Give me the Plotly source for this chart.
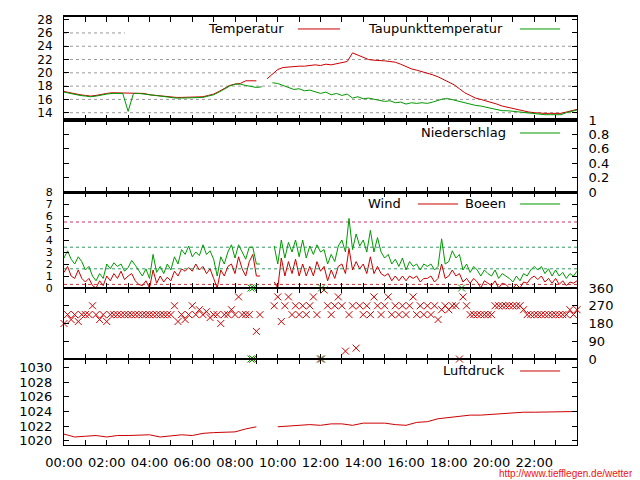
import plotly.graph_objects as go

# time grids (hours after midnight)
t_temp = [i / 4 for i in range(97)]     # 15 min
t_wind = [i / 6 for i in range(145)]    # 10 min
t_press = [i / 2 for i in range(49)]    # 30 min

temperatur = [
    17.2, 17.0, 16.8, 16.7, 16.6, 16.5, 16.6, 16.8,
    16.9, 17.0, 17.0, 17.0, 17.0, 17.0, 17.0, 16.9,
    16.7, 16.6, 16.5, 16.4, 16.3, 16.3, 16.3, 16.3,
    16.3, 16.3, 16.4, 16.6, 16.8, 17.2, 17.7, 18.1,
    18.3, 18.4, 18.8, 18.8, 18.8, None, 19.1, 19.8,
    20.5, 20.8, 20.9, 20.9, 21.0, 21.0, 21.1, 21.2,
    21.1, 21.3, 21.2, 21.4, 21.6, 21.7, 23.0, 22.7,
    22.4, 22.0, 21.9, 21.9, 21.8, 21.7, 21.6, 21.3,
    20.9, 20.6, 20.4, 20.2, 19.9, 19.7, 19.4, 19.0,
    18.6, 18.2, 17.6, 17.0, 16.6, 16.2, 16.0, 15.8,
    15.5, 15.3, 15.0, 14.8, 14.6, 14.4, 14.3, 14.1,
    14.0, 13.9, 13.9, 13.9, 13.9, 13.9, 14.1, 14.3,
    14.5,
]
taupunkt = [
    17.1, 16.9, 16.7, 16.6, 16.5, 16.4, 16.5, 16.7,
    16.8, 16.9, 16.9, 16.9, 14.2, 16.9, 16.9, 16.8,
    16.6, 16.5, 16.4, 16.3, 16.2, 16.2, 16.2, 16.2,
    16.2, 16.2, 16.3, 16.5, 16.7, 17.1, 17.6, 18.0,
    18.3, 18.3, 18.1, 17.9, 17.8, 17.9, None, 18.5,
    18.4, 18.1, 17.8, 17.5, 17.6, 17.3, 17.4, 17.2,
    16.9, 17.1, 16.7, 16.9, 16.6, 16.8, 16.2, 16.4,
    16.1, 16.2, 16.0, 15.9, 15.7, 15.8, 15.5, 15.6,
    15.3, 15.5, 15.4, 15.5, 15.4, 15.6, 15.8, 16.1,
    16.1, 15.9, 15.6, 15.4, 15.3, 15.1, 15.0, 14.8,
    14.6, 14.5, 14.3, 14.3, 14.2, 14.2, 14.1, 13.9,
    13.8, 13.7, 13.7, 13.7, 13.7, 13.7, 14.0, 14.2,
    14.4,
]
niederschlag = [0.0] * 49

boeen = [
    2.5, 3.1, 2.4, 2.0, 2.6, 2.2,  1.5, 1.8, 1.0, 0.6, 1.2, 0.8,
    2.0, 1.6, 2.1, 1.8, 2.0, 1.4,  1.7, 2.3, 1.9, 1.5, 1.0, 1.6,
    0.8, 2.8, 1.3, 1.8, 1.2, 2.0,  1.5, 2.6, 2.0, 3.2, 2.8, 3.5,
    2.6, 3.0, 2.7, 3.6, 2.8, 3.1,  2.4, 1.0, 2.6, 2.0, 3.0, 3.6,
    2.5, 3.6, 3.0, 2.4, 3.4, 3.4,  2.0, 2.0, None, None, None, 3.5,
    2.0, 4.0, 2.5, 3.8, 3.0, 4.0,  2.6, 4.0, 2.5, 3.5, 2.8, 3.6,
    3.0, 3.2, 2.0, 2.8, 2.2, 3.5,  4.0, 3.0, 5.8, 3.2, 4.5, 3.5,
    4.0, 3.0, 4.8, 3.0, 4.2, 3.0,  2.5, 2.8, 2.0, 2.4, 1.8, 2.5,
    1.5, 2.2, 1.8, 2.0, 1.5, 2.0,  1.8, 2.0, 1.5, 1.8, 4.1, 2.0,
    2.2, 3.1, 2.5, 2.8, 1.5, 2.0,  1.3, 1.8, 1.5, 1.0, 1.5, 1.2,
    1.0, 1.5, 0.8, 1.2, 1.0, 0.8,  0.5, 1.0, 0.6, 1.2, 1.0, 1.5,
    1.8, 1.5, 1.8, 1.2, 1.6, 1.0,  1.5, 1.0, 1.3, 0.8, 1.2, 1.0,
    1.4,
]
wind = [
    1.3, 1.8, 1.0, 0.8, 1.5, 0.8,  0.5, 0.8, 0.2, 0.0, 0.6, 0.2,
    1.0, 0.6, 1.2, 0.8, 1.4, 0.7,  1.0, 1.2, 0.6, 0.3, 0.2, 0.6,
    0.0, 1.5, 0.4, 1.0, 0.5, 0.9,  0.6, 1.4, 1.0, 1.6, 1.4, 1.7,
    1.4, 2.0, 1.5, 1.8, 1.2, 1.6,  0.8, 0.0, 1.5, 1.0, 1.8, 2.0,
    1.2, 2.6, 1.6, 1.0, 2.2, 2.8,  1.0, 1.0, None, None, None, 0.5,
    0.0, 2.5, 1.0, 2.2, 1.2, 2.4,  1.0, 2.0, 1.0, 1.8, 1.0, 2.2,
    1.4, 1.8, 0.6, 1.5, 0.8, 1.8,  2.0, 1.2, 3.3, 1.5, 2.2, 1.6,
    2.0, 1.2, 2.6, 1.2, 1.8, 1.2,  1.0, 1.2, 0.6, 1.0, 0.6, 1.0,
    0.6, 1.0, 0.8, 1.0, 0.5, 0.8,  0.8, 1.0, 0.5, 0.8, 2.0, 0.8,
    1.0, 1.5, 1.0, 1.2, 0.5, 0.8,  0.4, 0.8, 0.5, 0.0, 0.6, 0.4,
    0.2, 0.6, 0.0, 0.4, 0.3, 0.0,  0.0, 0.3, 0.0, 0.5, 0.4, 0.8,
    1.0, 0.7, 1.0, 0.5, 0.8, 0.4,  0.8, 0.3, 0.6, 0.2, 0.5, 0.4,
    0.6,
]
richtung = [
    180, 225, 200, 225, 190, 225,  225, 225, 270, 225, 200, 225,
    190, 225, 225, 225, 225, 225,  225, 225, 225, 225, 225, 225,
    225, 225, 225, 225, 225, 225,  225, 270, 190, 225, 200, 225,
    270, 225, 250, 225, 240, 210,  225, 225, 180, 225, 225, 250,
    225, 315, 225, 225, 225, 0,    140, 225, None, None, None, 270,
    315, 190, 270, 315, 225, 270,  225, 270, 225, 270, 315, 225,
    0, 350, 270, 225, 270, 315,    270, 40, 225, 270, 55, 270,
    225, 270, 225, 315, 270, 225,  270, 315, 225, 270, 225, 270,
    225, 270, 315, 225, 270, 225,  270, 225, 270, 200, 250, 270,
    250, 270, 270, 0, 315, 270,    225, 225, 225, 225, 225, 225,
    225, 270, 270, 270, 270, 270,  270, 270, 270, 250, 225, 225,
    225, 225, 225, 225, 225, 225,  225, 225, 225, 225, 250, 225,
    250,
]
boeen_richtung_t = [8.75, 8.85, 8.75, 8.85, 12.05, 12.05, 18.6]
boeen_richtung = [360, 360, 0, 0, 360, 0, 360]

luftdruck = [
    1020.9, 1020.5, 1020.6, 1020.7, 1020.5, 1020.7, 1020.7, 1020.8,
    1020.8, 1020.5, 1020.7, 1020.8, 1020.7, 1021.0, 1021.1, 1021.1,
    1021.2, 1021.6, 1021.9, None, 1021.9, 1022.0, 1022.1, 1022.2,
    1022.1, 1022.3, 1022.3, 1022.1, 1022.4, 1022.4, 1022.4, 1022.2,
    1022.1, 1022.5, 1022.6, 1023.0, 1023.2, 1023.4, 1023.5, 1023.5,
    1023.6, 1023.8, 1023.9, 1023.9, 1023.9, 1023.9, 1024.0, 1024.0,
    1024.0,
]

# dotted grid in the temperature panel; the key hides the 26 line after ~2:50
temp_grid = [14, 16, 18, 20, 22, 24, 26]
temp_grid_end = [24, 24, 24, 24, 24, 24, 2.85]

beaufort_limits = [0.3, 1.6, 3.4, 5.5, 8.0]
beaufort_colors = ['#cc3333', '#339966', '#339966', '#cc3366', '#339999']
beaufort_pos = [4.3, 6.6]
beaufort_text = ['3', '4']

hour_ticks = list(range(0, 24, 2))
hour_labels = ['%02d:00' % h for h in hour_ticks]
minor_ticks = list(range(1, 24, 2)) + [24]

RED = '#cc0000'
GREEN = '#009900'
FONT = 'DejaVu Sans'

fig = go.Figure()

fig.add_trace(go.Scatter(x=t_temp, y=temperatur, mode='lines', line=dict(color=RED, width=1),
                         xaxis='x', yaxis='y'))
fig.add_trace(go.Scatter(x=t_temp, y=taupunkt, mode='lines', line=dict(color=GREEN, width=1),
                         xaxis='x', yaxis='y'))
fig.add_trace(go.Scatter(x=t_press, y=niederschlag, mode='lines', line=dict(color=GREEN, width=1),
                         xaxis='x2', yaxis='y2'))
fig.add_trace(go.Scatter(x=t_wind, y=boeen, mode='lines', line=dict(color=GREEN, width=1),
                         xaxis='x3', yaxis='y3'))
fig.add_trace(go.Scatter(x=t_wind, y=wind, mode='lines', line=dict(color=RED, width=1),
                         xaxis='x3', yaxis='y3'))
fig.add_trace(go.Scatter(x=t_wind, y=richtung, mode='markers',
                         marker=dict(symbol='x-thin', size=7, line=dict(color=RED, width=1)),
                         xaxis='x4', yaxis='y4', cliponaxis=False))
fig.add_trace(go.Scatter(x=boeen_richtung_t, y=boeen_richtung, mode='markers',
                         marker=dict(symbol='x-thin', size=7, line=dict(color=GREEN, width=1)),
                         xaxis='x4', yaxis='y4', cliponaxis=False))
fig.add_trace(go.Scatter(x=t_press, y=luftdruck, mode='lines', line=dict(color=RED, width=1),
                         xaxis='x5', yaxis='y5'))

domains = {
    1: [0.7593, 1.0],
    2: [0.5911, 0.7593],
    3: [0.3668, 0.5911],
    4: [0.2009, 0.3668],
    5: [0.0, 0.2009],
}

# the page body keeps an 8px margin, so the figure is 8px smaller on both axes
layout = dict(
    width=632, height=472,
    margin=dict(l=56, r=63, t=9, b=35, autoexpand=False),
    paper_bgcolor='white', plot_bgcolor='white',
    showlegend=False,
    font=dict(family=FONT, size=13, color='black'),
)

for i in range(1, 6):
    key = 'xaxis' if i == 1 else 'xaxis%d' % i
    thick = 1.5 if i <= 2 else 1
    layout[key] = dict(
        domain=[0, 1], anchor='y' if i == 1 else 'y%d' % i,
        range=[0, 24], showgrid=False, zeroline=False, automargin=False,
        showline=True, linecolor='black', linewidth=thick, mirror='ticks',
        ticks='inside', ticklen=5, tickcolor='black',
        tickvals=hour_ticks, ticktext=hour_labels,
        showticklabels=(i == 5), ticklabelstandoff=5,
        minor=dict(tickvals=minor_ticks, ticks='inside', ticklen=5, tickcolor='black'),
    )
    if i > 1:
        layout[key]['matches'] = 'x'

ybase = dict(showline=True, linecolor='black', linewidth=1, mirror='ticks',
             ticks='inside', ticklen=5, tickcolor='black', zeroline=False,
             ticklabelstandoff=8, automargin=False, showgrid=False)

layout['yaxis'] = dict(ybase, domain=domains[1], anchor='x', range=[12.9, 28.4],
                       tickvals=[14, 16, 18, 20, 22, 24, 26, 28], tickfont=dict(size=12))
layout['yaxis2'] = dict(ybase, domain=domains[2], anchor='x2', range=[0, 1], side='right',
                        tickvals=[0, 0.2, 0.4, 0.6, 0.8, 1], ticktext=['0', '0.2', '0.4', '0.6', '0.8', '1'])
layout['yaxis3'] = dict(ybase, domain=domains[3], anchor='x3', range=[0, 8],
                        tickvals=list(range(0, 9)), tickfont=dict(size=11))
layout['yaxis6'] = dict(domain=domains[3], anchor='x3', overlaying='y3', side='right', range=[0, 8],
                        tickvals=beaufort_pos, ticktext=beaufort_text, ticks='', showgrid=False,
                        zeroline=False, showline=False, ticklabelstandoff=8, automargin=False)
layout['yaxis4'] = dict(ybase, domain=domains[4], anchor='x4', range=[0, 360], side='right',
                        tickvals=[0, 90, 180, 270, 360])
layout['yaxis5'] = dict(ybase, domain=domains[5], anchor='x5', range=[1019.4, 1031.2],
                        tickvals=[1020, 1022, 1024, 1026, 1028, 1030])

fig.update_layout(**layout)

for v, x_end in zip(temp_grid, temp_grid_end):
    fig.add_shape(type='line', xref='x', yref='y', x0=0, x1=x_end, y0=v, y1=v,
                  line=dict(color='#9a9a9a', width=1, dash='dot'), layer='below')

# Beaufort limit lines in the wind panel
for v, c in zip(beaufort_limits, beaufort_colors):
    fig.add_shape(type='line', xref='x3 domain', yref='y3', x0=0, x1=1, y0=v, y1=v,
                  line=dict(color=c, width=1, dash='dot'), layer='below')

# gnuplot style keys: text then line sample
keys = [
    ('Temperatur', 0.4327, 0.972, 0.456, 0.538, RED),
    ('Taupunkttemperatur', 0.8596, 0.972, 0.889, 0.967, GREEN),
    ('Niederschlag', 0.8655, 0.729, 0.889, 0.967, GREEN),
    ('Wind', 0.661, 0.5631, 0.690, 0.768, RED),
    ('Boeen', 0.8655, 0.5631, 0.889, 0.967, GREEN),
    ('Luftdruck', 0.8635, 0.1729, 0.889, 0.967, RED),
]
for text, tx, ty, lx0, lx1, col in keys:
    fig.add_annotation(text=text, xref='paper', yref='paper', x=tx, y=ty,
                       xanchor='right', yanchor='middle', showarrow=False,
                       font=dict(family=FONT, size=13, color='black'))
    fig.add_shape(type='line', xref='paper', yref='paper', x0=lx0, x1=lx1, y0=ty, y1=ty,
                  line=dict(color=col, width=1))

fig.add_annotation(text='http://www.tiefflegen.de/wetter/', xref='paper', yref='paper',
                   x=1.117, y=-0.067, xanchor='right', yanchor='middle', showarrow=False,
                   font=dict(family='Liberation Sans', size=10, color='#ee1111'))

fig.write_html("out.html")
